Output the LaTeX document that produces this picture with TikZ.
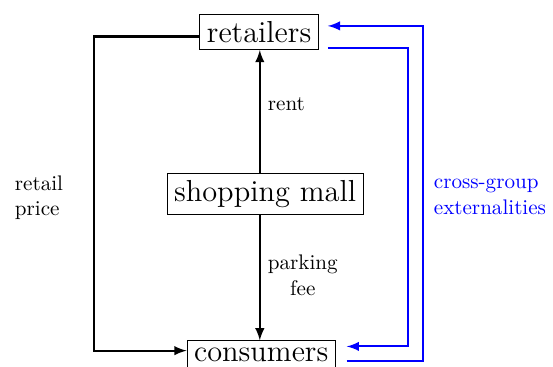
\documentclass[tikz,border=0pt]{standalone}
\usepackage{tikz}
\usetikzlibrary{positioning}

\begin{document}
\begin{tikzpicture}[
	box/.style={draw, font=\Large},
	conn/.style={line width=1pt, -latex},
	cross/.style={line width=1pt, blue, -latex}
	]
	% 固定画布大小
	\useasboundingbox (0,0) rectangle (9.21,6.11);
	
	% 三个主体:零售商、购物中心、消费者
	\node[box] (retailers) at (4.315,5.58) {retailers};
	\node[box] (mall) at (4.415,2.88) {shopping mall};
	\node[box] (consumers) at (4.35,0.2) {consumers};
	
	% 购物中心向零售商收取租金
	\draw[conn] ([xshift=-2.5pt]mall.north) -- ([xshift=-2.5pt]mall.north |- retailers.south)
		node[pos=0.56, right] {rent};
	% 购物中心向消费者收取停车费
	\draw[conn] ([xshift=-2.5pt]mall.south) -- ([xshift=-2.5pt]mall.south |- consumers.north)
		node[pos=0.48, right, align=center] {parking\\fee};
	
	% 零售价格(左侧回路)
	\draw[conn] ([yshift=-2.2pt]retailers.west) -- ++(-1.75,0) |- ([yshift=2pt]consumers.west);
	\node[align=left] (price) at (0.65,2.82) {retail\\price};
	
	% 跨边网络外部性(右侧两条蓝线)
	\draw[cross] ([xshift=5.2pt,yshift=-3pt]consumers.east) -- ++(1.266,0) |- ([xshift=4.3pt,yshift=2.8pt]retailers.east);
	\draw[cross] ([xshift=4.3pt,yshift=-7.5pt]retailers.east) -- ++(1.333,0) |- ([xshift=5.2pt,yshift=4pt]consumers.east);
	\node[blue, align=left] (ext) at (8.16,2.83) {cross-group\\externalities};
	
\end{tikzpicture}
\end{document}
